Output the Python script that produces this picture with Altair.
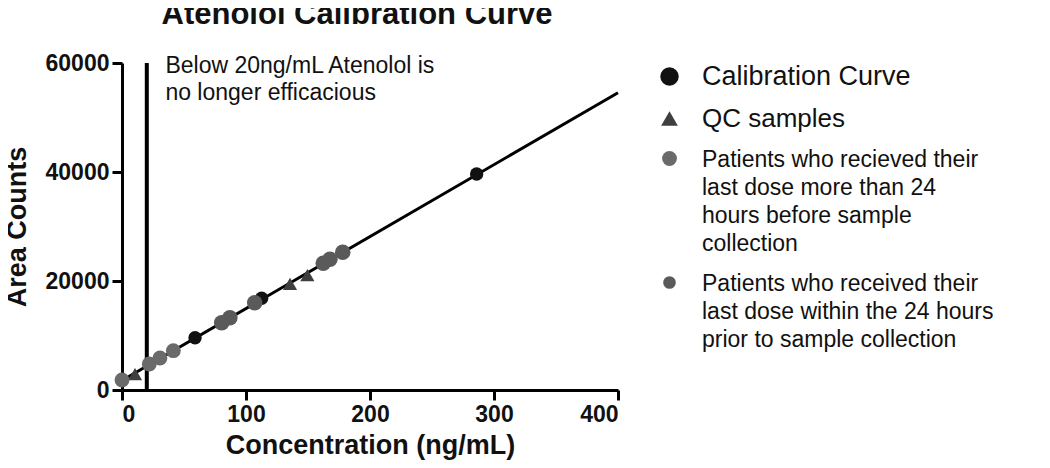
import altair as alt
import pandas as pd

# ---- data ----
cal_conc = [58.9, 112.6, 286.0]
cal_area = [9600, 16820, 39630]

qc_conc = [10.5, 135.5, 149.5]
qc_area = [2935, 19450, 21100]

p_old_conc = [0.0, 22.0, 30.6, 41.4]
p_old_area = [1835, 4770, 5870, 7210]

p_new_conc = [80.4, 87.0, 107.0, 162.3, 167.7, 178.0]
p_new_area = [12350, 13270, 16020, 23250, 23980, 25260]

fit_x = [0, 400]
fit_y = [1750, 54550]

cutoff_conc = [20]
cutoff_lo = [0]
cutoff_hi = [60000]

x_ticks = [0, 100, 200, 300, 400]
y_ticks = [0, 20000, 40000, 60000]

groups = [
    "Calibration Curve",
    "QC samples",
    "Patients who recieved their|last dose more than 24|hours before sample|collection",
    "Patients who received their|last dose within the 24 hours|prior to sample collection",
]
group_shapes = ["circle", "triangle-up", "circle", "circle"]
group_colors = ["#111111", "#3f3f3f", "#6a6a6a", "#5a5a5a"]
plot_sizes = [180, 240, 230, 230]
legend_sizes = [340, 160, 170, 170]

annotation = ["Below 20ng/mL Atenolol is", "no longer efficacious"]
annot_x = [35]
annot_y = [58200]

FONT = "Liberation Sans"

rows = []
for g, cs, ars in zip(groups, [cal_conc, qc_conc, p_old_conc, p_new_conc],
                      [cal_area, qc_area, p_old_area, p_new_area]):
    for c, a in zip(cs, ars):
        rows.append({"conc": c, "area": a, "group": g})
pts = pd.DataFrame(rows)
fit = pd.DataFrame({"conc": fit_x, "area": fit_y})
cut = pd.DataFrame({"conc": cutoff_conc, "lo": cutoff_lo, "hi": cutoff_hi})
ann = pd.DataFrame({"conc": annot_x, "area": annot_y, "txt": [annotation]})

xscale = alt.Scale(domain=[0, 400], nice=False, zero=False)
yscale = alt.Scale(domain=[0, 60000], nice=False)

xaxis = alt.Axis(values=x_ticks, format="d", title="Concentration (ng/mL)",
                 titlePadding=6, labelPadding=-5)
yaxis = alt.Axis(values=y_ticks, format="d", title="Area Counts",
                 titlePadding=14, labelOffset=-8)

line = alt.Chart(fit).mark_line(color="black", strokeWidth=3).encode(
    x=alt.X("conc:Q", scale=xscale, axis=xaxis),
    y=alt.Y("area:Q", scale=yscale, axis=yaxis),
)

rule = alt.Chart(cut).mark_rule(color="black", strokeWidth=4).encode(
    x="conc:Q", y="lo:Q", y2="hi:Q"
)

text = alt.Chart(ann).mark_text(
    align="left", baseline="alphabetic", font=FONT, fontSize=23,
    lineHeight=27, color="#111111"
).encode(x="conc:Q", y="area:Q", text="txt")

points = alt.Chart(pts).mark_point(filled=True, opacity=1).encode(
    x="conc:Q",
    y="area:Q",
    shape=alt.Shape("group:N", scale=alt.Scale(domain=groups, range=group_shapes), legend=None),
    color=alt.Color("group:N", scale=alt.Scale(domain=groups, range=group_colors), legend=None),
    size=alt.Size("group:N", scale=alt.Scale(domain=groups, range=plot_sizes), legend=None),
)


def mk_legend():
    return alt.Legend(
        title=None, orient="none", legendX=536, legendY=2,
        labelExpr="split(datum.label, '|')",
        labelFont=FONT,
        labelFontSize={"expr": "datum.index == 0 ? 27 : datum.index == 1 ? 26 : 23"},
        labelColor="#111111",
        labelBaseline="alphabetic", labelLimit=400,
        labelOffset=21, rowPadding=15, symbolStrokeWidth=0, symbolOpacity=1,
    )


legend_layer = alt.Chart(pts).mark_point(filled=True, opacity=0).encode(
    x="conc:Q",
    y="area:Q",
    shape=alt.Shape("group:N", scale=alt.Scale(domain=groups, range=group_shapes),
                    legend=mk_legend()),
    color=alt.Color("group:N", scale=alt.Scale(domain=groups, range=group_colors),
                    legend=mk_legend()),
    size=alt.Size("group:N", scale=alt.Scale(domain=groups, range=legend_sizes),
                  legend=mk_legend()),
)

chart = alt.layer(line, rule, text, points, legend_layer).resolve_scale(
    color="independent", shape="independent", size="independent"
).properties(
    width=496, height=327,
    autosize=alt.AutoSizeParams(type="none"),
    padding={"left": 114, "top": 55, "right": 424, "bottom": 70},
    title=alt.Title("Atenolol Calibration Curve", font=FONT, fontSize=31,
                    fontWeight="bold", color="#111111", anchor="middle",
                    dx=-13, offset=21),
).configure(
    style={"guide-label": {"dy": 8, "lineHeight": 28}}
).configure_view(strokeWidth=0).configure_axis(
    grid=False, domainColor="black", domainWidth=3, tickColor="black",
    tickWidth=3, tickSize=10, labelFont=FONT, labelFontSize=23,
    labelFontWeight="bold", labelColor="#111111", labelPadding=3,
    titleFont=FONT, titleFontSize=27, titleFontWeight="bold",
    titleColor="#111111",
)

chart.save("out.html", embed_options={"renderer": "svg", "actions": False})
